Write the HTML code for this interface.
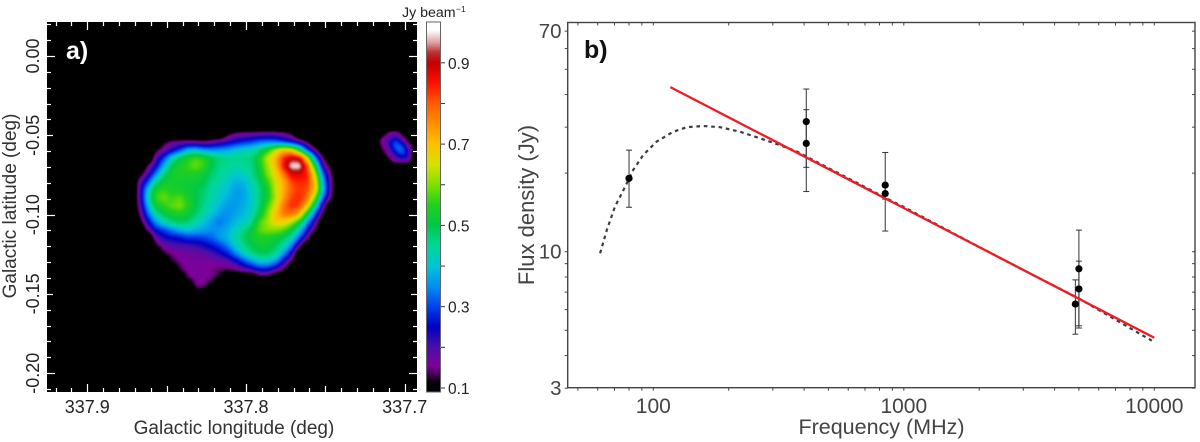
<!DOCTYPE html>
<html lang="en">
<head>
<meta charset="utf-8">
<title>Radio map and spectrum</title>
<style>
html,body{margin:0;padding:0;background:#fff;width:1200px;height:442px;overflow:hidden;}
#map-wrap{position:absolute;left:47px;top:22px;width:370px;height:370px;background:#000;overflow:hidden;}
#map-canvas{position:absolute;left:0;top:0;filter:blur(0.5px);}
#cbar-canvas{position:absolute;left:427px;top:22px;}
#overlay{position:absolute;left:0;top:0;}
text{font-family:"Liberation Sans",sans-serif;}
</style>
</head>
<body>
<div id="map-wrap"><canvas id="map-canvas" width="370" height="370"></canvas></div>
<canvas id="cbar-canvas" width="14" height="370"></canvas>
<svg id="overlay" width="1200" height="442" xmlns="http://www.w3.org/2000/svg"></svg>
<script>
// ---------- Panel a data ----------
const lonTicksMajor = [337.9, 337.8, 337.7];
const lonTickLabels = ["337.9", "337.8", "337.7"];
const latTicksMajor = [0, -0.05, -0.10, -0.15, -0.20];
const latTickLabels = ["0.00", "-0.05", "-0.10", "-0.15", "-0.20"];
const cbarTicksLabelled = [0.1, 0.3, 0.5, 0.7, 0.9];
const cbarTickLabels = ["0.1", "0.3", "0.5", "0.7", "0.9"];
const cbarTicksMinor = [0.2, 0.4, 0.6, 0.8];
// Intensity in units of 0.01 Jy/beam
const heatLonStart = 337.872, heatLonStep = -0.00504;
const heatLatStart = -0.0441, heatLatStep = -0.00504;
const heatValues = [
[0,0,0,0,0,0,0,0,0,0,0,0,0,0,0,0,0,0,0,0,0,0,0,0,0,0,0],
[0,0,0,0,0,0,0,0,0,0,0,0,11,15,17,17,18,18,18,16,12,0,0,0,0,0,0],
[0,0,0,0,11,15,16,17,16,15,17,20,23,26,28,30,33,34,33,30,26,20,12,0,0,0,0],
[0,0,0,11,17,23,30,38,40,36,35,36,37,40,42,43,47,54,64,70,68,52,30,16,0,0,0],
[0,0,0,19,29,42,50,54,57,55,50,47,46,46,46,47,54,64,72,84,90,88,64,34,13,0,0],
[0,0,14,24,38,50,54,56,59,56,50,46,45,44,45,46,53,62,70,86,98,98,80,50,20,9,0],
[0,9,20,34,47,53,54,54,54,52,48,45,44,41,42,46,51,60,67,78,88,88,84,62,30,13,0],
[0,18,30,46,52,53,53,52,52,50,46,44,41,38,39,43,49,56,65,72,82,84,83,68,36,15,0],
[0,20,40,54,56,54,53,52,50,48,44,42,40,36,37,42,47,53,64,72,80,83,81,68,38,15,0],
[0,20,42,56,59,56,58,54,50,47,44,41,38,36,37,41,47,53,63,74,82,84,78,58,30,13,0],
[0,18,38,52,55,58,60,55,50,46,42,39,36,36,38,41,48,57,66,78,84,82,68,44,18,0,0],
[0,14,32,44,50,53,54,52,48,44,40,36,35,37,39,42,51,60,70,78,78,71,50,30,11,0,0],
[0,9,24,36,43,47,49,48,44,40,36,33,36,39,41,46,57,62,68,68,63,53,36,19,0,0,0],
[0,0,16,26,30,34,38,40,38,37,35,36,38,42,46,51,58,60,60,58,51,41,25,12,0,0,0],
[0,0,0,18,23,25,26,29,29,30,32,36,39,44,48,52,54,54,52,49,43,31,16,0,0,0,0],
[0,0,0,11,17,19,20,20,21,23,26,29,34,41,46,50,52,52,49,44,34,16,0,0,0,0,0],
[0,0,0,0,12,15,16,17,17,18,20,23,27,34,41,46,49,49,45,36,23,0,0,0,0,0,0],
[0,0,0,0,0,12,15,16,16,16,16,17,18,23,29,35,40,40,35,23,12,0,0,0,0,0,0],
[0,0,0,0,0,0,13,16,16,16,15,14,13,15,18,21,25,25,20,13,0,0,0,0,0,0,0],
[0,0,0,0,0,0,0,14,16,16,15,11,0,0,0,0,9,9,0,0,0,0,0,0,0,0,0],
[0,0,0,0,0,0,0,0,15,15,9,0,0,0,0,0,0,0,0,0,0,0,0,0,0,0,0],
[0,0,0,0,0,0,0,0,7,5,0,0,0,0,0,0,0,0,0,0,0,0,0,0,0,0,0]
];
const sourceLonStart = 337.718, sourceLonStep = -0.00315;
const sourceLatStart = -0.0448, sourceLatStep = -0.00315;
const sourceValues = [
[0,0,0,0,0,0,0,0,0],
[0,0,12,16,16,12,0,0,0],
[0,14,16,20,22,17,12,0,0],
[8,16,18,26,31,24,16,10,0],
[0,14,17,24,33,33,23,16,8],
[0,10,15,19,27,33,27,16,0],
[0,0,13,16,20,24,24,16,0],
[0,0,0,13,16,17,16,13,0],
[0,0,0,0,0,0,0,0,0]
];
// Colour scale
const cmapValues = [0.09,0.115,0.13,0.155,0.20,0.25,0.30,0.35,0.40,0.45,0.50,0.55,0.60,0.65,0.70,0.75,0.80,0.85,0.90,0.925,0.95,0.98,1.0];
const cmapColors = ["#000000","#0a000f","#3a0048","#80009a","#4a10a8","#0000c4","#0040f0","#0090f2","#00c4d8","#00d898","#00c848","#20d020","#80e000","#d8e000","#ffc000","#ff9000","#ff5c00","#ff1000","#c40000","#bd3030","#e0a0a0","#ffffff","#ffffff"];

// ---------- Panel b data ----------
const freqTicksLabelled = [100, 1000, 10000];
const freqTickLabels = ["100", "1000", "10000"];
const freqTicksMinor = [50,60,70,80,90,200,300,400,500,600,700,800,900,2000,3000,4000,5000,6000,7000,8000,9000];
const fluxTicksLabelled = [70, 10, 3];
const fluxTickLabels = ["70", "10", "3"];
const fluxTicksMinor = [60,50,40,30,20,9,8,7,6,5,4];
const pointFreq = [80, 408, 408, 843, 843, 5000, 5000, 4840];
const pointFlux = [19.1, 31.5, 26.0, 18.0, 16.7, 8.6, 7.2, 6.3];
const pointFluxLow = [14.8, 21.05, 17.0, 12.0, 15.9, 5.1, 5.2, 4.83];
const pointFluxHigh = [24.5, 42.0, 35.0, 24.0, 17.7, 12.1, 9.2, 7.8];
const powerLawFreq = [117, 10000];
const powerLawFlux = [42.7, 4.68];
const curveFreq = [61.3,65.2,70.3,77.1,83.2,91.2,103,120,136,158,185,222,267,320,374,410,610,843,1000,2000,3000,5000,9770];
const curveFlux = [9.86,12.1,14.9,17.7,20.6,23.5,26.4,28.8,30.0,30.3,30.0,28.8,27.2,25.6,24.2,23.1,18.95,16.1,14.83,10.42,8.51,6.62,4.56];

// ---------- Axis functions ----------
const lonToX = v => 246 + (337.8 - v) * 1587;
const latToY = v => 56 - v * 1586;
const valToY = v => 388 - (v - 0.1) * 406.5;
const freqToX = v => 653.3 + 250.5 * Math.log10(v / 100);
const fluxToY = v => 251.7 - 261 * Math.log10(v / 10);
const snap = p => Math.round(p) + 0.5;

// ---------- Helpers ----------
const svg = document.getElementById('overlay');
const NS = 'http://www.w3.org/2000/svg';
function mk(tag, attrs, txt) {
  const el = document.createElementNS(NS, tag);
  for (const k in attrs) el.setAttribute(k, attrs[k]);
  if (txt !== undefined) el.textContent = txt;
  svg.appendChild(el);
  return el;
}
function hexRgb(h) { return [parseInt(h.slice(1,3),16), parseInt(h.slice(3,5),16), parseInt(h.slice(5,7),16)]; }
function colorFor(v) {
  if (v <= cmapValues[0]) return hexRgb(cmapColors[0]);
  for (let i = 1; i < cmapValues.length; i++) {
    if (v <= cmapValues[i]) {
      const t = (v - cmapValues[i-1]) / (cmapValues[i] - cmapValues[i-1]);
      const a = hexRgb(cmapColors[i-1]), b = hexRgb(cmapColors[i]);
      return [a[0]+(b[0]-a[0])*t, a[1]+(b[1]-a[1])*t, a[2]+(b[2]-a[2])*t];
    }
  }
  return [255,255,255];
}
function sampleGrid(g, c, r) {
  if (c < 0 || r < 0 || r >= g.length - 1 || c >= g[0].length - 1) return 0;
  const c0 = Math.floor(c), r0 = Math.floor(r), fc = c - c0, fr = r - r0;
  return (g[r0][c0]*(1-fc)*(1-fr) + g[r0][c0+1]*fc*(1-fr) + g[r0+1][c0]*(1-fc)*fr + g[r0+1][c0+1]*fc*fr) / 100;
}

// ---------- Heatmap ----------
(function () {
  const W = 370, H = 370, L = 47, T = 22;
  let field = new Float32Array(W * H);
  for (let j = 0; j < H; j++) {
    for (let i = 0; i < W; i++) {
      const lon = 337.8 - (L + i + 0.5 - 246) / 1587;
      const lat = -(T + j + 0.5 - 56) / 1586;
      const a = sampleGrid(heatValues, (lon - heatLonStart) / heatLonStep, (lat - heatLatStart) / heatLatStep);
      const b = sampleGrid(sourceValues, (lon - sourceLonStart) / sourceLonStep, (lat - sourceLatStart) / sourceLatStep);
      field[j * W + i] = Math.max(a, b);
    }
  }
  // light smoothing of the field so contours look continuous
  for (let pass = 0; pass < 1; pass++) {
    const out = new Float32Array(W * H);
    const R = 2;
    for (let j = R; j < H - R; j++) {
      for (let i = R; i < W - R; i++) {
        let s = 0;
        for (let dj = -R; dj <= R; dj++) for (let di = -R; di <= R; di++) s += field[(j+dj)*W + i+di];
        out[j*W+i] = s / ((2*R+1)*(2*R+1));
      }
    }
    field = out;
  }
  const ctx = document.getElementById('map-canvas').getContext('2d');
  const img = ctx.createImageData(W, H);
  for (let k = 0; k < W * H; k++) {
    const c = colorFor(field[k]);
    img.data[k*4] = c[0]; img.data[k*4+1] = c[1]; img.data[k*4+2] = c[2]; img.data[k*4+3] = 255;
  }
  ctx.putImageData(img, 0, 0);
  const cb = document.getElementById('cbar-canvas').getContext('2d');
  for (let j = 0; j < 370; j++) {
    const v = 0.1 + (388 - (22 + j + 0.5)) / 406.5;
    const c = colorFor(v);
    cb.fillStyle = 'rgb(' + Math.round(c[0]) + ',' + Math.round(c[1]) + ',' + Math.round(c[2]) + ')';
    cb.fillRect(0, j, 14, 1);
  }
})();

// ---------- Panel a axes ----------
const mapL = 47, mapR = 417, mapT = 22, mapB = 392;
for (let n = 0; n <= 23; n++) {
  const hund = 33770 + n;
  const len = hund % 10 === 0 ? 8 : (hund % 5 === 0 ? 6 : 4);
  const x = snap(lonToX(hund / 100));
  const b = mk('line', {x1:x, x2:x, y1:mapB, y2:mapB-len, stroke:'#fff', 'stroke-width':1.2});
  
  
  const t = mk('line', {x1:x, x2:x, y1:mapT, y2:mapT+len, stroke:'#fff', 'stroke-width':1.2});
  
  
}
for (let n = -21; n <= 2; n++) {
  const lat = n / 100;
  const len = n % 10 === 0 ? 8 : (n % 5 === 0 ? 6 : 4);
  const y = snap(latToY(lat));
  const l = mk('line', {x1:mapL, x2:mapL+len, y1:y, y2:y, stroke:'#fff', 'stroke-width':1.2});
  
  
  const r = mk('line', {x1:mapR, x2:mapR-len, y1:y, y2:y, stroke:'#fff', 'stroke-width':1.2});
  
  
}
lonTicksMajor.forEach((v, i) => {
  const el = mk('text', {x:lonToX(v), y:413, 'text-anchor':'middle', 'font-size':18, fill:'#222'}, lonTickLabels[i]);
  
  
});
latTicksMajor.forEach((v, i) => {
  const y = latToY(v);
  const el = mk('text', {x:0, y:0, transform:'translate(39,'+y+') rotate(-90)', 'text-anchor':'middle', 'font-size':18, fill:'#222'}, latTickLabels[i]);
  
  
});
const lonTitle = mk('text', {x:234, y:434, 'text-anchor':'middle', 'font-size':19, fill:'#333'}, 'Galactic longitude (deg)');


const latTitle = mk('text', {x:0, y:0, transform:'translate(16,206) rotate(-90)', 'text-anchor':'middle', 'font-size':19, fill:'#333'}, 'Galactic latitude (deg)');


const labelA = mk('text', {x:66, y:59, 'font-size':25, 'font-weight':'bold', fill:'#fff'}, 'a)');



// ---------- Colorbar ----------
const cbFrame = mk('rect', {x:426.5, y:22, width:14, height:370, fill:'none', stroke:'#666', 'stroke-width':1});


cbarTicksLabelled.forEach((v, i) => {
  const y = valToY(v);
  const t = mk('line', {x1:441, x2:445, y1:y, y2:y, stroke:'#333', 'stroke-width':1});
  
  
  const el = mk('text', {x:448, y:y+6, 'font-size':15.5, fill:'#222'}, cbarTickLabels[i]);
  
  
});
cbarTicksMinor.forEach(v => {
  const y = valToY(v);
  const t = mk('line', {x1:441, x2:445, y1:y, y2:y, stroke:'#333', 'stroke-width':1});
  
  
});
const cbTitle = mk('text', {x:402, y:17, 'font-size':14.2, fill:'#222'}, 'Jy beam');


const cbSup = mk('text', {x:456, y:12, 'font-size':8.5, fill:'#222'}, '\u22121');



// ---------- Panel b axes ----------
const spL = 567.7, spR = 1195, spT = 22.5, spB = 387.7;
const frame = mk('rect', {x:spL, y:spT, width:spR-spL, height:spB-spT, fill:'none', stroke:'#444', 'stroke-width':1.4});


freqTicksLabelled.concat(freqTicksMinor).forEach(v => {
  const x = freqToX(v);
  const b = mk('line', {x1:x, x2:x, y1:spB, y2:spB+3, stroke:'#444', 'stroke-width':1});
  
  
  const t = mk('line', {x1:x, x2:x, y1:spT, y2:spT+3, stroke:'#444', 'stroke-width':1});
  
  
});
fluxTicksLabelled.concat(fluxTicksMinor).forEach(v => {
  const y = fluxToY(v);
  const l = mk('line', {x1:spL-3, x2:spL, y1:y, y2:y, stroke:'#444', 'stroke-width':1});
  
  
  const r = mk('line', {x1:spR-3, x2:spR, y1:y, y2:y, stroke:'#444', 'stroke-width':1});
  
  
});
freqTicksLabelled.forEach((v, i) => {
  const el = mk('text', {x:freqToX(v), y:413, 'text-anchor':'middle', 'font-size':21, fill:'#444'}, freqTickLabels[i]);
  
  
});
fluxTicksLabelled.forEach((v, i) => {
  const el = mk('text', {x:561.5, y:fluxToY(v)+7, 'text-anchor':'end', 'font-size':20.5, fill:'#444'}, fluxTickLabels[i]);
  
  
});
const fTitle = mk('text', {x:881.5, y:434, 'text-anchor':'middle', 'font-size':21.5, fill:'#444'}, 'Frequency (MHz)');


const sTitle = mk('text', {x:0, y:0, transform:'translate(534,205) rotate(-90)', 'text-anchor':'middle', 'font-size':22, fill:'#444'}, 'Flux density (Jy)');


const labelB = mk('text', {x:584, y:58, 'font-size':25, 'font-weight':'bold', fill:'#111'}, 'b)');



// ---------- Panel b series ----------
const curvePts = curveFreq.map((f, i) => freqToX(f).toFixed(1) + ',' + fluxToY(curveFlux[i]).toFixed(1)).join(' ');
const curve = mk('polyline', {points:curvePts, fill:'none', stroke:'#3c3c3c', 'stroke-width':2.2, 'stroke-dasharray':'3.6 3.8'});


pointFreq.forEach((f, i) => {
  const x = freqToX(f);
  const y1 = fluxToY(pointFluxHigh[i]), y2 = fluxToY(pointFluxLow[i]);
  const bar = mk('line', {x1:x, x2:x, y1:y1, y2:y2, stroke:'#333', 'stroke-width':1});
  
  
  const c1 = mk('line', {x1:x-3, x2:x+3, y1:y1, y2:y1, stroke:'#333', 'stroke-width':1});
  
  
  const c2 = mk('line', {x1:x-3, x2:x+3, y1:y2, y2:y2, stroke:'#333', 'stroke-width':1});
  
  
});
const red = mk('line', {x1:freqToX(powerLawFreq[0]), y1:fluxToY(powerLawFlux[0]), x2:freqToX(powerLawFreq[1]), y2:fluxToY(powerLawFlux[1]), stroke:'#ee1c25', 'stroke-width':2.3});


pointFreq.forEach((f, i) => {
  const dot = mk('circle', {cx:freqToX(f), cy:fluxToY(pointFlux[i]), r:3.6, fill:'#000'});
  
  
});
</script>
</body>
</html>
